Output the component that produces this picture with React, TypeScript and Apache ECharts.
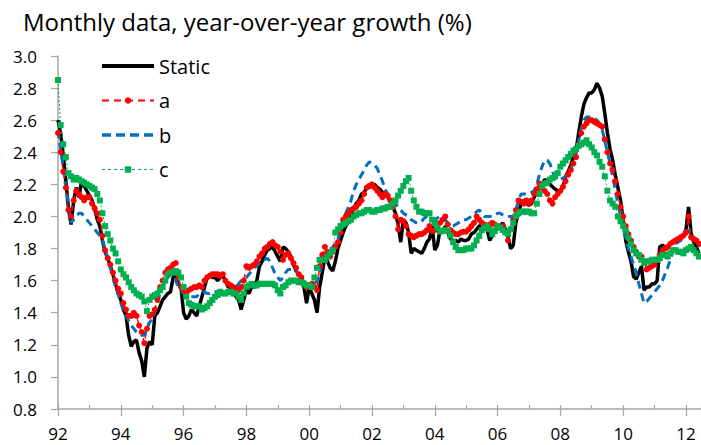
import React, { useEffect, useRef } from "react";
import * as echarts from "echarts";

const START_YEAR = 1992;
const X_MAX = 2012.48;
const seriesNames = ["Static", "a", "b", "c"];
const xTickLabels = ["92", "94", "96", "98", "00", "02", "04", "06", "08", "10", "12"];
const titleText = "Monthly data, year-over-year growth (%)";

// Monthly values, Jan 1992 .. Jun 2012 (one row per year)
const staticVals = [
  2.60, 2.52, 2.38, 2.22, 2.05, 1.95, 2.10, 2.18, 2.12, 2.22, 2.19, 2.16,
  2.13, 2.10, 2.05, 1.98, 1.94, 1.85, 1.78, 1.74, 1.69, 1.64, 1.58, 1.52,
  1.48, 1.42, 1.38, 1.26, 1.19, 1.22, 1.23, 1.15, 1.10, 1.00, 1.18, 1.22,
  1.20, 1.38, 1.40, 1.44, 1.48, 1.50, 1.52, 1.53, 1.62, 1.64, 1.58, 1.56,
  1.40, 1.36, 1.38, 1.42, 1.40, 1.38, 1.44, 1.50, 1.56, 1.62, 1.64, 1.62,
  1.62, 1.60, 1.62, 1.63, 1.60, 1.56, 1.56, 1.52, 1.50, 1.48, 1.42, 1.48,
  1.54, 1.52, 1.56, 1.56, 1.60, 1.69, 1.72, 1.76, 1.79, 1.80, 1.81, 1.78,
  1.75, 1.72, 1.81, 1.80, 1.78, 1.75, 1.70, 1.66, 1.64, 1.62, 1.56, 1.46,
  1.56, 1.52, 1.48, 1.40, 1.56, 1.65, 1.75, 1.72, 1.68, 1.66, 1.72, 1.80,
  1.85, 1.90, 1.94, 1.97, 2.00, 2.05, 2.08, 2.10, 2.14, 2.15, 2.18, 2.18,
  2.19, 2.20, 2.18, 2.17, 2.15, 2.14, 2.12, 2.10, 2.06, 2.02, 1.95, 1.84,
  1.98, 1.96, 1.90, 1.77, 1.80, 1.79, 1.78, 1.77, 1.80, 1.84, 1.86, 1.94,
  1.79, 1.82, 1.915, 1.90, 1.94, 1.90, 1.86, 1.85, 1.85, 1.84, 1.86, 1.85,
  1.85, 1.86, 1.89, 1.90, 1.92, 1.94, 1.95, 1.96, 1.92, 1.85, 1.88, 1.915,
  1.93, 1.94, 1.96, 1.92, 1.87, 1.80, 1.82, 1.96, 2.02, 2.08, 2.10, 2.08,
  2.07, 2.08, 2.12, 2.15, 2.185, 2.20, 2.23, 2.22, 2.20, 2.185, 2.17, 2.16,
  2.16, 2.18, 2.25, 2.28, 2.32, 2.37, 2.41, 2.52, 2.62, 2.70, 2.74, 2.77,
  2.77, 2.79, 2.83, 2.80, 2.75, 2.64, 2.52, 2.42, 2.35, 2.26, 2.18, 2.10,
  1.98, 1.85, 1.78, 1.72, 1.625, 1.61, 1.65, 1.69, 1.54, 1.56, 1.56, 1.58,
  1.58, 1.60, 1.81, 1.82, 1.81, 1.80, 1.83, 1.84, 1.85, 1.86, 1.86, 1.88,
  1.915, 2.06, 1.89, 1.84, 1.81, 1.77,
];

const aVals = [
  2.52, 2.40, 2.28, 2.18, 2.04, 2.00, 2.10, 2.16, 2.14, 2.12, 2.10, 2.12,
  2.12, 2.08, 2.05, 2.02, 1.98, 1.88, 1.79, 1.74, 1.70, 1.65, 1.60, 1.55,
  1.52, 1.46, 1.42, 1.38, 1.38, 1.40, 1.38, 1.32, 1.28, 1.21, 1.30, 1.38,
  1.39, 1.42, 1.48, 1.56, 1.60, 1.65, 1.67, 1.68, 1.70, 1.71, 1.62, 1.56,
  1.54, 1.52, 1.54, 1.55, 1.56, 1.56, 1.57, 1.56, 1.60, 1.62, 1.63, 1.64,
  1.64, 1.64, 1.63, 1.64, 1.60, 1.58, 1.57, 1.56, 1.55, 1.54, 1.56, 1.60,
  1.69, 1.68, 1.69, 1.70, 1.72, 1.75, 1.77, 1.80, 1.81, 1.83, 1.84, 1.82,
  1.81, 1.78, 1.73, 1.76, 1.77, 1.74, 1.71, 1.68, 1.64, 1.62, 1.58, 1.56,
  1.56, 1.58, 1.56, 1.54, 1.69, 1.76, 1.81, 1.78, 1.75, 1.78, 1.81, 1.84,
  1.90, 1.98, 2.00, 2.02, 2.04, 2.05, 2.06, 2.08, 2.10, 2.14, 2.18, 2.19,
  2.20, 2.18, 2.16, 2.14, 2.12, 2.14, 2.13, 2.10, 2.06, 2.00, 1.92, 1.98,
  1.97, 1.94, 1.89, 1.88, 1.87, 1.88, 1.89, 1.89, 1.90, 1.915, 1.94, 1.91,
  1.915, 1.93, 1.96, 1.98, 2.00, 1.95, 1.915, 1.90, 1.89, 1.89, 1.90, 1.905,
  1.905, 1.92, 1.94, 1.96, 2.00, 1.98, 1.96, 1.95, 1.94, 1.95, 1.96, 1.95,
  1.94, 1.93, 1.94, 1.90, 1.85, 1.92, 1.98, 2.04, 2.10, 2.09, 2.08, 2.10,
  2.08, 2.10, 2.14, 2.17, 2.205, 2.18, 2.16, 2.14, 2.10, 2.08, 2.12, 2.14,
  2.16, 2.185, 2.22, 2.26, 2.29, 2.33, 2.37, 2.45, 2.52, 2.56, 2.58, 2.60,
  2.60, 2.59, 2.58, 2.57, 2.56, 2.48, 2.40, 2.33, 2.29, 2.22, 2.14, 2.06,
  2.00, 1.94, 1.89, 1.85, 1.81, 1.78, 1.75, 1.75, 1.72, 1.67, 1.68, 1.69,
  1.70, 1.73, 1.76, 1.79, 1.80, 1.81, 1.83, 1.84, 1.85, 1.86, 1.87, 1.88,
  1.90, 2.00, 1.87, 1.86, 1.85, 1.83,
];

const bVals = [
  2.54, 2.42, 2.30, 2.18, 2.08, 1.96, 1.98, 2.00, 2.02, 2.02, 2.00, 1.98,
  1.96, 1.94, 1.92, 1.90, 1.88, 1.85, 1.80, 1.74, 1.68, 1.62, 1.56, 1.52,
  1.46, 1.42, 1.38, 1.35, 1.32, 1.30, 1.28, 1.27, 1.26, 1.26, 1.30, 1.34,
  1.36, 1.40, 1.46, 1.52, 1.56, 1.60, 1.62, 1.64, 1.64, 1.60, 1.56, 1.54,
  1.52, 1.51, 1.50, 1.50, 1.50, 1.50, 1.52, 1.53, 1.53, 1.52, 1.52, 1.53,
  1.53, 1.53, 1.54, 1.54, 1.53, 1.52, 1.53, 1.54, 1.56, 1.58, 1.60, 1.61,
  1.62, 1.64, 1.66, 1.68, 1.69, 1.71, 1.73, 1.73, 1.74, 1.72, 1.68, 1.64,
  1.62, 1.60, 1.62, 1.65, 1.67, 1.67, 1.67, 1.66, 1.64, 1.62, 1.60, 1.58,
  1.58, 1.57, 1.58, 1.60, 1.64, 1.72, 1.77, 1.78, 1.79, 1.81, 1.83, 1.86,
  1.92, 1.98, 2.02, 2.06, 2.10, 2.16, 2.20, 2.23, 2.26, 2.29, 2.32, 2.34,
  2.33, 2.32, 2.30, 2.26, 2.22, 2.17, 2.14, 2.12, 2.10, 2.08, 2.06, 2.04,
  2.02, 2.01, 2.00, 1.98, 1.97, 1.96, 1.96, 1.97, 1.99, 2.00, 1.99, 1.98,
  1.98, 1.99, 2.00, 1.99, 1.98, 1.96, 1.94, 1.94, 1.95, 1.96, 1.97, 1.98,
  1.98, 1.99, 2.00, 2.01, 2.03, 2.04, 2.02, 2.00, 2.00, 2.00, 2.00, 2.01,
  2.02, 2.02, 2.01, 2.00, 2.00, 2.00, 2.00, 2.04, 2.10, 2.14, 2.14, 2.14,
  2.14, 2.15, 2.16, 2.20, 2.26, 2.31, 2.35, 2.35, 2.33, 2.28, 2.24, 2.23,
  2.23, 2.24, 2.25, 2.27, 2.30, 2.34, 2.40, 2.47, 2.55, 2.60, 2.62, 2.62,
  2.62, 2.61, 2.60, 2.58, 2.54, 2.47, 2.40, 2.33, 2.25, 2.16, 2.08, 2.00,
  1.93, 1.87, 1.80, 1.75, 1.70, 1.65, 1.58, 1.52, 1.46, 1.47, 1.49, 1.51,
  1.53, 1.55, 1.57, 1.60, 1.64, 1.68, 1.73, 1.78, 1.83, 1.84, 1.85, 1.87,
  1.89, 1.915, 1.90, 1.86, 1.84, 1.81,
];

const cVals = [
  2.85, 2.57, 2.45, 2.37, 2.27, 2.25, 2.23, 2.24, 2.23, 2.22, 2.21, 2.20,
  2.19, 2.18, 2.17, 2.14, 2.10, 2.02, 1.94, 1.89, 1.85, 1.80, 1.77, 1.72,
  1.67, 1.64, 1.62, 1.59, 1.56, 1.54, 1.52, 1.51, 1.50, 1.47, 1.41, 1.48,
  1.50, 1.51, 1.52, 1.54, 1.56, 1.60, 1.64, 1.65, 1.65, 1.66, 1.65, 1.62,
  1.56, 1.50, 1.46, 1.45, 1.44, 1.44, 1.44, 1.42, 1.43, 1.44, 1.46, 1.48,
  1.50, 1.51, 1.53, 1.52, 1.52, 1.53, 1.53, 1.52, 1.52, 1.50, 1.48, 1.52,
  1.56, 1.57, 1.58, 1.57, 1.57, 1.58, 1.58, 1.58, 1.58, 1.58, 1.58, 1.57,
  1.54, 1.52, 1.56, 1.57, 1.59, 1.60, 1.60, 1.60, 1.59, 1.59, 1.58, 1.57,
  1.57, 1.56, 1.62, 1.68, 1.73, 1.73, 1.73, 1.75, 1.77, 1.79, 1.90, 1.92,
  1.94, 1.95, 1.96, 1.97, 1.98, 2.00, 2.01, 2.02, 2.02, 2.03, 2.04, 2.04,
  2.03, 2.03, 2.04, 2.04, 2.05, 2.05, 2.06, 2.06, 2.08, 2.10, 2.13, 2.16,
  2.19, 2.22, 2.24, 2.16, 2.10, 2.06, 2.03, 2.03, 2.02, 2.02, 2.02, 1.98,
  1.96, 1.93, 1.905, 1.91, 1.915, 1.91, 1.88, 1.84, 1.81, 1.79, 1.79, 1.79,
  1.80, 1.80, 1.80, 1.82, 1.85, 1.88, 1.915, 1.93, 1.94, 1.92, 1.89, 1.91,
  1.94, 1.93, 1.915, 1.90, 1.89, 1.92, 1.96, 2.00, 2.02, 2.03, 2.03, 2.03,
  2.03, 2.02, 2.02, 2.08, 2.14, 2.19, 2.205, 2.21, 2.23, 2.24, 2.25, 2.27,
  2.31, 2.33, 2.35, 2.37, 2.39, 2.41, 2.42, 2.44, 2.45, 2.46, 2.475, 2.45,
  2.43, 2.40, 2.38, 2.34, 2.31, 2.25, 2.16, 2.10, 2.08, 2.06, 2.00, 1.97,
  1.94, 1.91, 1.87, 1.83, 1.79, 1.77, 1.76, 1.73, 1.71, 1.72, 1.72, 1.73,
  1.73, 1.73, 1.74, 1.76, 1.76, 1.75, 1.77, 1.79, 1.79, 1.78, 1.78, 1.77,
  1.79, 1.80, 1.81, 1.79, 1.77, 1.75,
];

const FONT = "'Open Sans', 'Noto Sans', sans-serif";

const toPairs = (vals: number[]) => vals.map((v, i) => [START_YEAR + i / 12, v]);

export default function App() {
  const ref = useRef<HTMLDivElement>(null);
  useEffect(() => {
    if (!ref.current) return;
    const chart = echarts.init(ref.current, null, { renderer: "svg" });
    const xLabel = (v: number) => {
      const r = Math.round(v);
      if (Math.abs(v - r) > 1e-6) return "";
      const idx = (r - START_YEAR) / 2;
      return Number.isInteger(idx) && xTickLabels[idx] !== undefined ? xTickLabels[idx] : "";
    };
    chart.setOption({
      animation: false,
      backgroundColor: "#ffffff",
      title: {
        text: titleText,
        left: 18,
        top: 4,
        textStyle: { fontFamily: FONT, fontSize: 24, fontWeight: "normal", color: "#000" },
      },
      legend: {
        orient: "vertical",
        left: 95,
        top: 51,
        itemWidth: 52,
        itemHeight: 8,
        itemGap: 14.5,
        data: [
          { name: seriesNames[0], itemStyle: { opacity: 0 }, lineStyle: { width: 4, color: "#000000" } },
          { name: seriesNames[1], lineStyle: { width: 2, color: "#ff0000", type: [7, 5] } },
          { name: seriesNames[2], itemStyle: { opacity: 0 }, lineStyle: { width: 3.5, color: "#0070c0", type: [9, 5] } },
          { name: seriesNames[3], lineStyle: { width: 1, color: "#00b050", type: [3, 3] } },
        ],
        textStyle: { fontFamily: FONT, fontSize: 20, color: "#000" },
      },
      grid: { left: 58, right: 0, top: 56, bottom: 36, containLabel: false },
      xAxis: [
        {
          type: "value",
          min: START_YEAR,
          max: X_MAX,
          interval: 2,
          axisLine: { show: true, lineStyle: { color: "#a6a6a6", width: 1.5 } },
          axisTick: { show: true, inside: false, length: 7, lineStyle: { color: "#a6a6a6", width: 1.2 } },
          axisLabel: { formatter: xLabel, fontFamily: FONT, fontSize: 17, color: "#000", margin: 16, showMaxLabel: false },
          splitLine: { show: false },
        },
        {
          type: "value",
          position: "bottom",
          min: START_YEAR,
          max: X_MAX,
          interval: 1,
          axisLine: { show: false },
          axisTick: { show: true, inside: true, length: 4, lineStyle: { color: "#a6a6a6", width: 1.2 } },
          axisLabel: { show: false },
          splitLine: { show: false },
        },
      ],
      yAxis: {
        type: "value",
        min: 0.8,
        max: 3.0,
        interval: 0.2,
        axisLine: { show: true, lineStyle: { color: "#a6a6a6", width: 1.5 } },
        axisTick: { show: true, inside: false, length: 7, lineStyle: { color: "#a6a6a6", width: 1.2 } },
        axisLabel: {
          formatter: (v: number) => v.toFixed(1),
          fontFamily: FONT,
          fontSize: 17,
          color: "#000",
          margin: 21,
        },
        splitLine: { show: false },
      },
      series: [
        {
          name: seriesNames[0],
          type: "line",
          data: toPairs(staticVals),
          symbol: "none",
          lineStyle: { color: "#000000", width: 3.5 },
          itemStyle: { color: "#000000" },
        },
        {
          name: seriesNames[1],
          type: "line",
          data: toPairs(aVals),
          symbol: "circle",
          symbolSize: 6,
          lineStyle: { color: "#ff0000", width: 1.5, type: [6, 4] },
          itemStyle: { color: "#ff0000" },
        },
        {
          name: seriesNames[2],
          type: "line",
          data: toPairs(bVals),
          symbol: "none",
          lineStyle: { color: "#0070c0", width: 3, type: [8, 5] },
          itemStyle: { color: "#0070c0" },
        },
        {
          name: seriesNames[3],
          type: "line",
          data: toPairs(cVals),
          symbol: "rect",
          symbolSize: 6,
          lineStyle: { color: "#00b050", width: 1, type: [2, 2] },
          itemStyle: { color: "#00b050" },
        },
      ],
    });
    return () => chart.dispose();
  }, []);
  return (
    <div
      ref={ref}
      style={{ position: "fixed", left: 0, top: 0, width: 701, height: 445, background: "#fff" }}
    />
  );
}
